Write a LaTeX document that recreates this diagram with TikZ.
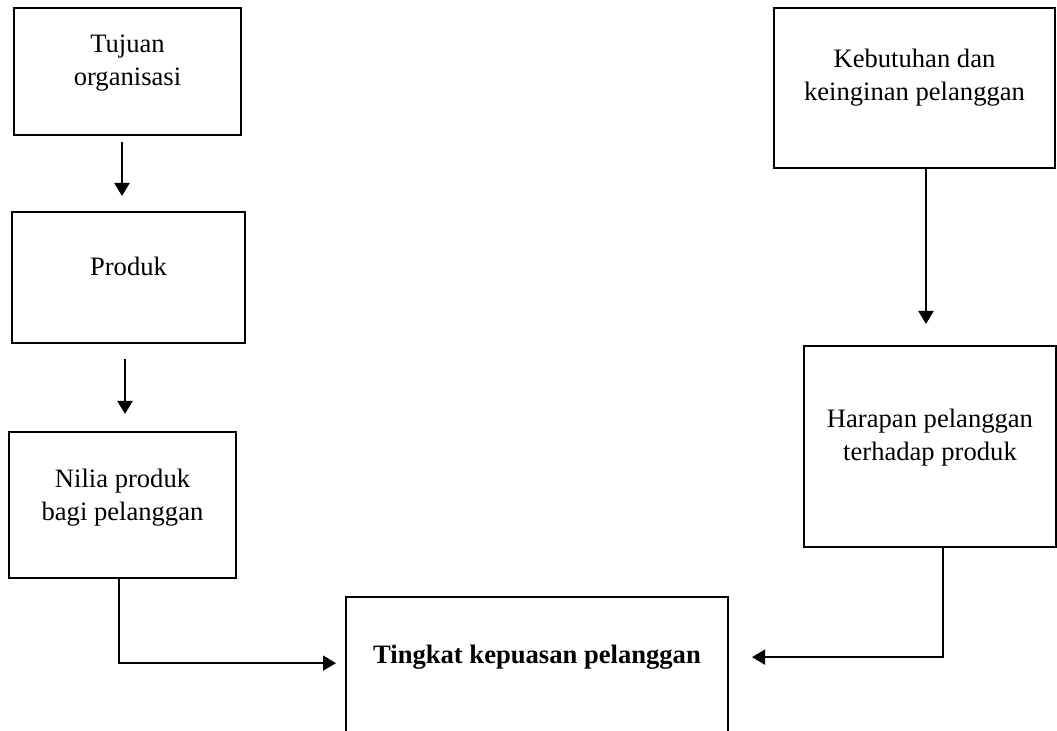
\documentclass[tikz,border=0pt]{standalone}
\usepackage{fontspec}
\setmainfont{Liberation Serif}
\usetikzlibrary{arrows.meta}

\begin{document}
\begin{tikzpicture}[
  x=0.5pt, y=-0.5pt,
  >={Triangle[length=6.5pt,width=7.5pt]},
  every node/.style={font=\fontsize{13.3}{16.5}\selectfont},
  box/.style={draw,line width=1pt,align=center,inner sep=0pt,text depth=#1},
  box/.default=11.3pt,
  link/.style={->,line width=1pt},
  elbow/.style={->,line width=0.8pt}
]
  \useasboundingbox (0,0) rectangle (1057,731);
  \clip (0,0) rectangle (1057,731);

  % left column
  \node[box=11.1pt,minimum width=113.5pt,minimum height=63.5pt] (tujuan) at (127.5,71.5) {Tujuan\\organisasi};
  \node[box=11.6pt,minimum width=116.5pt,minimum height=65.5pt] (produk) at (128.5,277.5) {Produk};
  \node[box=10.6pt,minimum width=113.5pt,minimum height=73pt] (nilai) at (122.5,505) {Nilia produk\\bagi pelanggan};

  % right column
  \node[box=13.6pt,minimum width=140.5pt,minimum height=80pt] (kebutuhan) at (914.5,88) {Kebutuhan dan\\keinginan pelanggan};
  \node[box=12.1pt,minimum width=126pt,minimum height=100.5pt] (harapan) at (930,446.5) {Harapan pelanggan\\terhadap produk};

  % result
  \node[box=34.6pt,minimum width=191pt,minimum height=91.5pt,font=\fontsize{13.3}{16.5}\selectfont\bfseries] (kepuasan) at (537,688.5) {Tingkat kepuasan pelanggan};

  \draw[link,shorten <=3pt,shorten >=7.5pt] ([xshift=-2.75pt]tujuan.south) -- ([xshift=-2.75pt]tujuan.south |- produk.north);
  \draw[link,shorten <=7.5pt,shorten >=8.5pt] ([xshift=-1.75pt]produk.south) -- ([xshift=-1.75pt]produk.south |- nilai.north);
  \draw[link,shorten >=10.5pt] ([xshift=5.75pt]kebutuhan.south) -- ([xshift=5.75pt]kebutuhan.south |- harapan.north);
  \draw[elbow] ([xshift=-1.75pt]nilai.south) |- ([xshift=-4.5pt]kepuasan.base west);
  \draw[elbow] ([xshift=6.5pt]harapan.south) |- ([xshift=11.5pt,yshift=3pt]kepuasan.base east);
\end{tikzpicture}
\end{document}
